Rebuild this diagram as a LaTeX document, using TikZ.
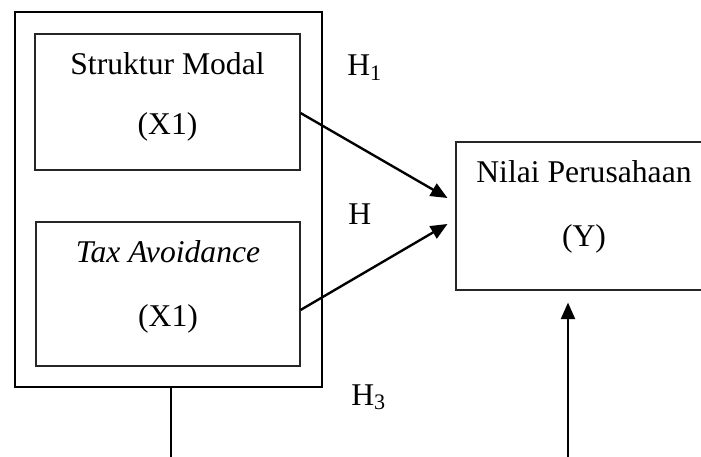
\documentclass[tikz,border=0pt]{standalone}
\usepackage{fontspec}
\setmainfont{Liberation Serif}
\usetikzlibrary{arrows.meta,calc}

\begin{document}
\begin{tikzpicture}[x=0.2mm,y=-0.2mm]
    \tikzstyle{every node}=[font=\fontsize{18}{36}\selectfont]
    \tikzstyle{var box}=[rectangle,draw=black!85,line width=0.6pt,inner sep=0pt]
    \tikzstyle{var text}=[align=center,anchor=base,inner sep=0pt]
    \tikzstyle{hyp}=[anchor=base west,inner sep=0pt]
    \tikzstyle{path arrow}=[line width=1.35pt,-{Triangle[length=9.5pt,width=8pt]}]

    \clip (0,0) rectangle (701,457);

    % Draw the outer box round both independent variables
    \node[var box,draw=black,line width=0.85pt,minimum width=6.14cm,minimum height=7.5cm] (X) at (168.5,199.5) {};

    % Draw the variable boxes
    \node[var box,minimum width=5.3cm,minimum height=2.72cm] (X1) at (167.5,102) {};
    \node[var box,minimum width=5.28cm,minimum height=2.88cm] (X2) at (168,294) {};
    \node[var box,minimum width=5.12cm,minimum height=2.96cm] (Y) at (584,216) {};

    % Names of the variables (anchored on the last line)
    \node[var text] (X1-t) at (167.5,135) {Struktur Modal\\[-1.8pt](X1)};
    \node[var text] (X2-t) at (168,326) {\textit{Tax Avoidance}\\(X1)};
    \node[var text] (Y-t) at (584,246) {Nilai Perusahaan\\(Y)};

    % Hypotheses
    \node[hyp] (H1) at (347,76) {H\textsubscript{1}};
    \node[hyp] (H2) at (348,224) {H};
    \node[hyp] (H3) at (351,405) {H\textsubscript{3}};

    % Connect the variables
    \draw[path arrow] ($(X1.east)+(0,11)$) -- ($(Y.west)+(-8,-18)$);
    \draw[path arrow] ($(X2.east)+(0,16)$) -- ($(Y.west)+(-8,8)$);

    \coordinate (X-down) at (171,457);
    \coordinate (Y-up) at (568,457);
    \draw[line width=0.85pt] (X.south -| X-down) -- (X-down);
    \draw[path arrow] (Y-up) -- ($(Y-up |- Y.south)+(0,12)$);
\end{tikzpicture}
\end{document}
